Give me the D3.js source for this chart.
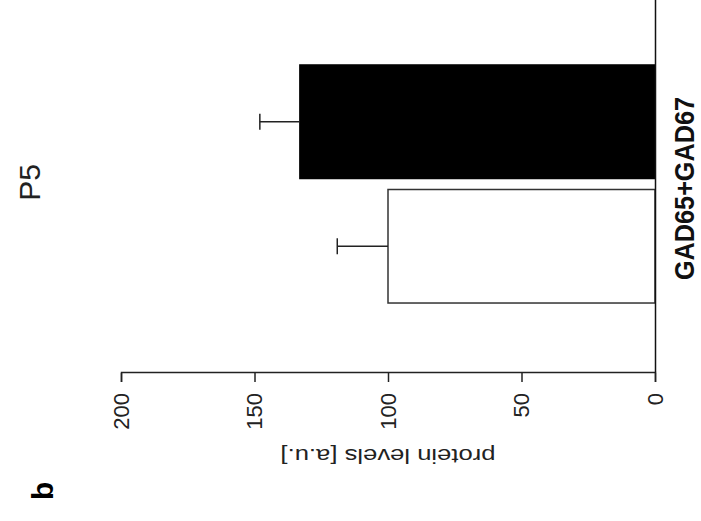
<!DOCTYPE html>
<html lang="en">

<head>
  <meta charset="UTF-8">
  <title>P5 protein levels</title>
  <script src="https://d3js.org/d3.v7.min.js"></script>
  <style>
    body {
      margin: 0;
      background: #fff;
    }
    svg {
      display: block;
      font-family: "Liberation Sans", Arial, sans-serif;
    }
  </style>
</head>

<body>
</body>
<script>
  // data
  const categories = ["GAD65+GAD67"]
  const groups = ["control", "mutant"]
  const means = [100, 133]
  const sems = [19, 15]
  const fills = ["#fff", "#000"]
  const yTicks = [0, 50, 100, 150, 200]

  const rows = groups.map((k, i) => ({ group: k, cat: categories[0], mean: means[i], sem: sems[i], fill: fills[i] }))

  const svg = d3.select("body").append("svg")
    .attr("width", 701)
    .attr("height", 521)

  svg.append("rect").attr("width", 701).attr("height", 521).attr("fill", "#fff")

  // the figure is drawn upright, then the whole panel is turned on its side
  const g = svg.append("g").attr("transform", "translate(0,521) rotate(-90)")

  const y = d3.scaleLinear().domain([0, 200]).range([655, 121])
  const x0 = d3.scaleBand().domain(categories).range([148, 526]).paddingOuter(0.294)
  const x1 = d3.scaleBand().domain(groups).range([0, x0.bandwidth()]).paddingInner(0.0884)

  // bars
  g.append("g")
    .selectAll("rect")
    .data(rows)
    .join("rect")
    .attr("x", d => x0(d.cat) + x1(d.group))
    .attr("y", d => y(d.mean))
    .attr("width", x1.bandwidth())
    .attr("height", d => y(0) - y(d.mean))
    .attr("fill", d => d.fill)
    .attr("stroke", d => d.fill === "#000" ? "#000" : "#333")
    .attr("stroke-width", 1.5)

  // error bars (upper half only)
  const err = g.append("g")
    .attr("stroke", "#222")
    .attr("stroke-width", 1.5)
    .selectAll("g")
    .data(rows)
    .join("g")

  err.append("line")
    .attr("x1", d => x0(d.cat) + x1(d.group) + x1.bandwidth() / 2)
    .attr("x2", d => x0(d.cat) + x1(d.group) + x1.bandwidth() / 2)
    .attr("y1", d => y(d.mean))
    .attr("y2", d => y(d.mean + d.sem))

  err.append("line")
    .attr("x1", d => x0(d.cat) + x1(d.group) + x1.bandwidth() / 2 - 8)
    .attr("x2", d => x0(d.cat) + x1(d.group) + x1.bandwidth() / 2 + 8)
    .attr("y1", d => y(d.mean + d.sem))
    .attr("y2", d => y(d.mean + d.sem))

  // value axis
  const yAxis = g.append("g")
    .attr("transform", "translate(148,0)")
    .call(d3.axisLeft(y).tickValues(yTicks).tickSize(9).tickPadding(11))
  yAxis.selectAll("path, line").attr("stroke", "#222").attr("stroke-width", 1.5)
  yAxis.selectAll("text")
    .attr("font-size", 22)
    .attr("font-family", "'Liberation Sans', Arial, sans-serif")
    .attr("fill", "#222")

  // category axis
  const xAxis = g.append("g")
    .attr("transform", "translate(0,655)")
    .call(d3.axisBottom(x0).tickSize(0).tickPadding(20))
  xAxis.selectAll("path").attr("stroke", "#111").attr("stroke-width", 1.5)
  xAxis.selectAll("text")
    .attr("x", -4.5)
    .attr("font-size", 27)
    .attr("font-weight", "bold")
    .attr("font-family", "'Liberation Sans', Arial, sans-serif")
    .attr("fill", "#111")
    .attr("textLength", 183)
    .attr("lengthAdjust", "spacingAndGlyphs")

  // axis title
  g.append("text")
    .attr("transform", `translate(72.5,${y(100)}) rotate(-90)`)
    .attr("text-anchor", "middle")
    .attr("font-size", 21)
    .attr("fill", "#222")
    .attr("textLength", 215)
    .attr("lengthAdjust", "spacingAndGlyphs")
    .text("protein levels [a.u.]")

  // panel title
  g.append("text")
    .attr("x", x0(categories[0]) + x0.bandwidth() / 2 + 1.5)
    .attr("y", 40)
    .attr("text-anchor", "middle")
    .attr("font-size", 30)
    .attr("fill", "#222")
    .text("P5")

  // panel letter
  g.append("text")
    .attr("x", 21)
    .attr("y", 53)
    .attr("font-size", 30)
    .attr("font-weight", "bold")
    .attr("fill", "#000")
    .text("b")
</script>

</html>
